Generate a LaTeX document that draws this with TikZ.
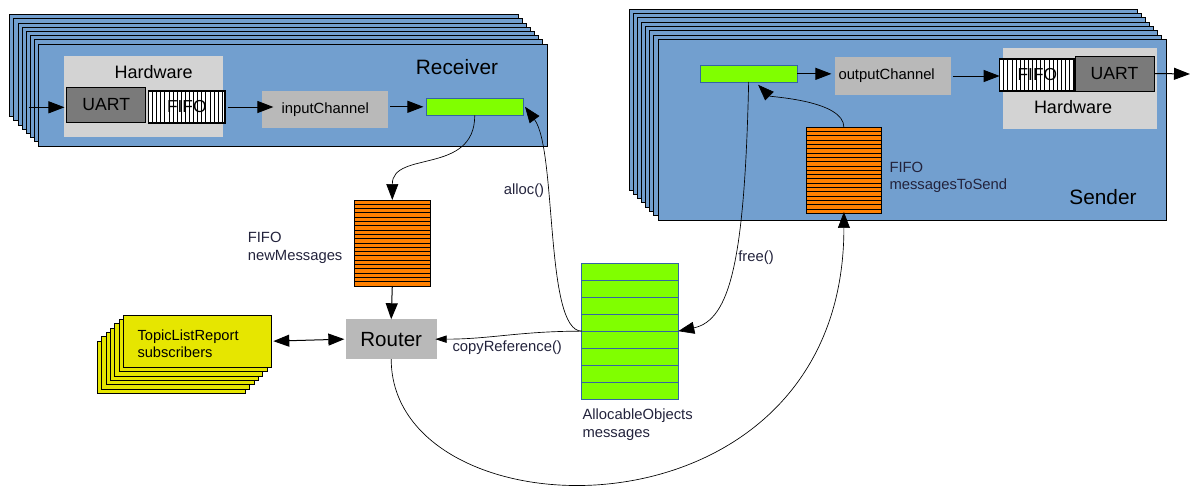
\documentclass[tikz,border=0pt]{standalone}
\usepackage{fontspec}
\setmainfont{Liberation Sans}
\usetikzlibrary{arrows.meta}

\definecolor{sheetblue}{RGB}{114,159,207}
\definecolor{limegreen}{RGB}{128,255,0}
\definecolor{edgeblue}{RGB}{52,101,164}
\definecolor{fifoorange}{RGB}{255,128,0}
\definecolor{hwgray}{RGB}{211,211,211}
\definecolor{chgray}{RGB}{185,185,185}
\definecolor{uartgray}{RGB}{122,122,122}
\definecolor{subyellow}{RGB}{230,230,0}
\definecolor{labelink}{RGB}{35,35,60}

\tikzset{every picture/.style={line width=0.75pt}}
\tikzset{
  box/.style={rectangle,inner sep=0pt,outer sep=0pt},
  sheet/.style={draw=black,fill=sheetblue},
  subsheet/.style={draw=black,fill=subyellow},
  hwbox/.style={box,fill=hwgray},
  uartbox/.style={box,draw=black,fill=uartgray,font=\fontsize{13.2}{15}\selectfont},
  hatchbox/.style={box,draw=black,line width=1pt,fill=white,font=\fontsize{13}{15}\selectfont,
    path picture={\foreach \k in {1,...,18}
      \draw[line width=0.6pt] ([xshift=\k*3.075pt]path picture bounding box.south west)
        -- ([xshift=\k*3.075pt]path picture bounding box.north west);}},
  chanbox/.style={box,fill=chgray,font=\fontsize{11.1}{13}\selectfont},
  bufbar/.style={box,draw=edgeblue,fill=limegreen,line width=0.5pt},
  fifostack/.style={box,draw=black,fill=fifoorange,
    path picture={\foreach \k in {1,...,19}
      \draw[line width=0.75pt] ([yshift=\k*3.225pt]path picture bounding box.south west)
        -- ([yshift=\k*3.225pt]path picture bounding box.south east);}},
  msglist/.style={box,draw=edgeblue,fill=limegreen,line width=0.5pt},
  routerbox/.style={box,fill=chgray,font=\fontsize{15.4}{18}\selectfont},
  note/.style={text=labelink,align=left,inner sep=0pt,font=\fontsize{11.1}{13}\selectfont},
  title/.style={inner sep=0pt,font=\fontsize{15.6}{18}\selectfont},
  hwtitle/.style={inner sep=0pt,font=\fontsize{13.5}{16}\selectfont},
  flow/.style={-{Triangle[length=12pt,width=9pt]},line width=0.75pt},
  callflow/.style={-{Triangle[length=12pt,width=9pt]},line width=0.5pt},
  smallflow/.style={-{Triangle[length=8.5pt,width=5.5pt]},line width=0.5pt},
  bothflow/.style={{Triangle[length=12pt,width=9pt]}-{Triangle[length=12pt,width=9pt]},line width=0.75pt}
}

\begin{document}
\begin{tikzpicture}[x=0.75pt,y=0.75pt,yscale=-1,xscale=1]
\useasboundingbox (0,0) rectangle (1191,493);

%Shape: Receiver sheets
\draw[sheet] (9.7,14.7) rectangle (518,116.7);
\draw[sheet] (13.9,18.9) rectangle (522.2,120.9);
\draw[sheet] (18,23.1) rectangle (526.3,125.1);
\draw[sheet] (22.2,27.3) rectangle (530.5,129.3);
\draw[sheet] (26.3,31.5) rectangle (534.6,133.5);
\draw[sheet] (30.5,35.7) rectangle (538.8,137.7);
\draw[sheet] (34.6,39.9) rectangle (542.9,141.9);
\draw[sheet] (38.7,44.1) rectangle (547,146);

%Shape: Sender sheets
\draw[sheet] (629,9.3) rectangle (1137,190);
\draw[sheet] (633.1,13.6) rectangle (1141.1,194.3);
\draw[sheet] (637.3,17.9) rectangle (1145.3,198.6);
\draw[sheet] (641.4,22.2) rectangle (1149.4,202.9);
\draw[sheet] (645.6,26.5) rectangle (1153.6,207.2);
\draw[sheet] (649.7,30.7) rectangle (1157.7,211.4);
\draw[sheet] (653.9,35) rectangle (1161.9,215.7);
\draw[sheet] (658,39.3) rectangle (1166,220);

%Shape: subscriber sheets
\draw[subsheet] (97.3,341) rectangle (245.3,393.3);
\draw[subsheet] (101.6,336.7) rectangle (249.6,389);
\draw[subsheet] (106,332.3) rectangle (254,384.6);
\draw[subsheet] (110.3,328) rectangle (258.3,380.3);
\draw[subsheet] (114.6,323.7) rectangle (262.6,376);
\draw[subsheet] (119,319.3) rectangle (267,371.6);
\node[box,draw=black,fill=subyellow,minimum width=111pt,minimum height=39.2pt] (subs) at (197.3,341.15) {};

% Receiver
\node[title] (rxtitle) at (457,67) {Receiver};
\node[hwbox,minimum width=118.9pt,minimum height=60.75pt] (rxhw) at (143.75,96.5) {};
\node[hwtitle] (rxhwtitle) at (153.6,72) {Hardware};
\node[uartbox,minimum width=59.6pt,minimum height=26.25pt] (rxuart) at (106.25,105) {UART};
\node[hatchbox,minimum width=57.4pt,minimum height=24pt] (rxfifo) at (186.75,107) {FIFO};
\node[chanbox,minimum width=94.2pt,minimum height=27.75pt] (inch) at (325.2,109.2) {inputChannel};
\node[bufbar,minimum width=72.4pt,minimum height=12.75pt] (rxbuf) at (474.75,106.8) {};
\coordinate (rxin) at (28.7,107.3);

% Sender
\node[title] (txtitle) at (1103,197) {Sender};
\node[bufbar,minimum width=73pt,minimum height=12.2pt] (txbuf) at (748.65,73.85) {};
\node[chanbox,minimum width=86.8pt,minimum height=28pt] (outch) at (892.65,76) {outputChannel\hspace*{9pt}};
\node[hwbox,minimum width=115.5pt,minimum height=60.75pt] (txhw) at (1080.3,88.8) {};
\node[hwtitle] (txhwtitle) at (1073,107) {Hardware};
\node[hatchbox,minimum width=56.5pt,minimum height=24pt] (txfifo) at (1037.35,75) {FIFO};
\node[uartbox,minimum width=59.25pt,minimum height=26.25pt] (txuart) at (1114.5,73.5) {UART};
\node[fifostack,minimum width=56.25pt,minimum height=64.5pt] (tosend) at (843.9,170.3) {};
\node[note,anchor=west] (tosendlabel) at (889,177.5) {FIFO\\messagesToSend};
\coordinate (txout) at (1190,74);

% Router and queues
\node[fifostack,minimum width=57pt,minimum height=64.5pt] (newmsg) at (392.3,243) {};
\node[note,anchor=west] (newmsglabel) at (247.3,248) {FIFO\\newMessages};
\node[routerbox,minimum width=68.25pt,minimum height=29.8pt] (router) at (391.2,339.15) {Router};
\node[anchor=west,align=left,inner sep=0pt,font=\fontsize{11}{13}\selectfont] (subslabel) at (137,343.5) {TopicListReport\\subscribers};

% AllocableObjects list
\node[msglist,minimum width=72.45pt,minimum height=101.8pt] (msgs) at (630,331.15) {};
\draw[edgeblue,line width=0.5pt] (581.7,280.3) -- (678.3,280.3);
\draw[edgeblue,line width=0.5pt] (581.7,297.2) -- (678.3,297.2);
\draw[edgeblue,line width=0.5pt] (581.7,314.2) -- (678.3,314.2);
\draw[edgeblue,line width=0.5pt] (581.7,331.2) -- (678.3,331.2);
\draw[edgeblue,line width=0.5pt] (581.7,348.1) -- (678.3,348.1);
\draw[edgeblue,line width=0.5pt] (581.7,365.1) -- (678.3,365.1);
\draw[edgeblue,line width=0.5pt] (581.7,382) -- (678.3,382);
\node[note,anchor=west] (msgslabel) at (582,424.5) {AllocableObjects\\messages};

% Text Node
\node[note] (alloclabel) at (524,191) {alloc()};
% Text Node
\node[note] (freelabel) at (756,258) {free()};
% Text Node
\node[note,anchor=west] (copylabel) at (452,348) {copyReference()};

%Straight Lines
\draw[flow] (rxin) -- (rxin -| rxhw.west);
\draw[flow] ([xshift=2.25pt]rxfifo.east) -- ([xshift=8.25pt]inch.west |- rxfifo.east);
\draw[flow] ([xshift=1.5pt]inch.east |- rxbuf.west) -- ([xshift=-2.25pt]rxbuf.west);
\draw[flow] (txbuf.east) -- ([xshift=-2.5pt]txbuf.east -| outch.west);
\draw[flow] ([xshift=2pt]outch.east) -- (outch.east -| txfifo.west);
\draw[flow] (txuart.east) -- (txout);
\draw[flow] (newmsg.south) -- (router.north);
\draw[bothflow] ([xshift=1.5pt]subs.east) -- ([xshift=-1pt]router.west);

%Curve Lines
\draw[callflow] (rxbuf.south) .. controls +(0,60) and +(0,-50) .. (newmsg.north);
\draw[callflow] (msgs.west) .. controls +(-37,0) and +(32,43) .. ([xshift=1.5pt]rxbuf.east);
\draw[smallflow] (msgs.west) .. controls +(-62,0) and +(55,0) .. ([xshift=-1pt]router.east);
\draw[callflow] (txbuf.south) .. controls +(-4,178) and +(52,-11) .. (msgs.east);
\draw[callflow,shorten >=3pt] (tosend.north) .. controls +(0,-27) and +(15,15) .. ([xshift=5pt]txbuf.south);
\draw[callflow] (router.south) .. controls +(0,181) and +(0,340) .. ([yshift=-1pt]tosend.south);

\end{tikzpicture}
\end{document}
